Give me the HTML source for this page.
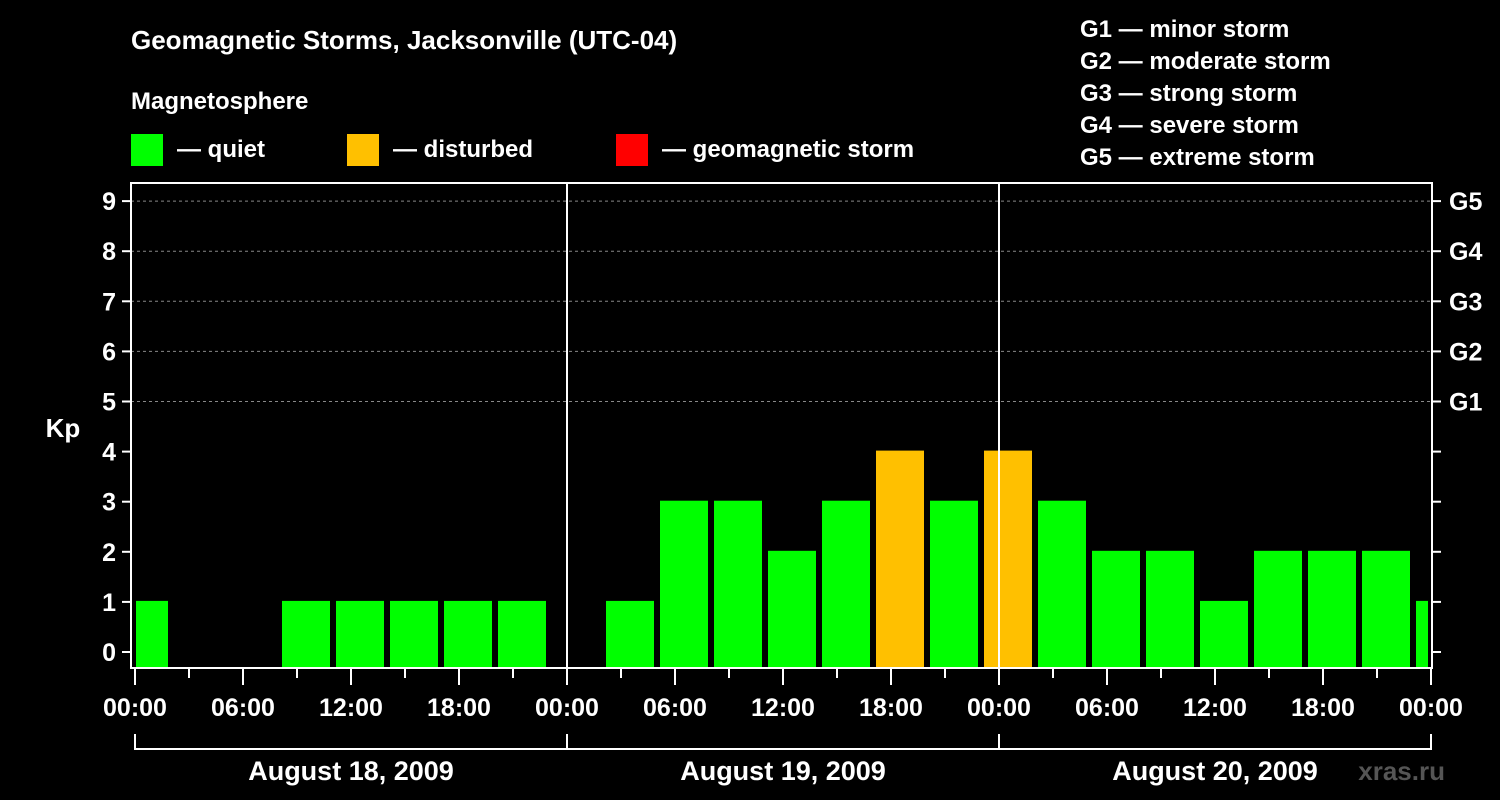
<!DOCTYPE html>
<html><head><meta charset="utf-8"><style>
html,body{margin:0;padding:0;background:#000;}
svg{display:block;font-family:"Liberation Sans",Arial,sans-serif;font-weight:bold;}
</style></head><body>
<svg id="chart" width="1500" height="800">
<rect width="1500" height="800" fill="#000"/>
<text x="131" y="49" fill="#fff" font-size="26">Geomagnetic Storms, Jacksonville (UTC-04)</text>
<text x="131" y="109" fill="#fff" font-size="24">Magnetosphere</text>
<g><rect x="131" y="134" width="32" height="32" fill="#00ff00"/><text x="177" y="157" fill="#fff" font-size="24">— quiet</text></g>
<g><rect x="347" y="134" width="32" height="32" fill="#ffc000"/><text x="393" y="157" fill="#fff" font-size="24">— disturbed</text></g>
<g><rect x="616" y="134" width="32" height="32" fill="#ff0000"/><text x="662" y="157" fill="#fff" font-size="24">— geomagnetic storm</text></g>
<g fill="#fff" font-size="24">
<text x="1080" y="37">G1 — minor storm</text>
<text x="1080" y="69">G2 — moderate storm</text>
<text x="1080" y="101">G3 — strong storm</text>
<text x="1080" y="133">G4 — severe storm</text>
<text x="1080" y="165">G5 — extreme storm</text>
</g>
<text x="63" y="437" fill="#fff" font-size="26" text-anchor="middle">Kp</text>
<text x="1445" y="780" fill="#555" font-size="26" text-anchor="end">xras.ru</text>
<g id="grid"></g><g id="bars"></g><g id="axes"></g>
</svg>
<script>
const kpValues=[1,0,0,1,1,1,1,1,0, 1,3,3,2,3,4,3,4, 3,2,2,1,2,2,2,1];
const yTicks=[0,1,2,3,4,5,6,7,8,9];
const gLabels=["G1","G2","G3","G4","G5"];
const xTickLabels=["00:00","06:00","12:00","18:00","00:00","06:00","12:00","18:00","00:00","06:00","12:00","18:00","00:00"];
const dayLabels=["August 18, 2009","August 19, 2009","August 20, 2009"];
const firstSlotHour=-1, slotHours=3;
const X0=131,X1=1432,T0=135,PXH=18,YB=668,YT=183;
const xs=h=>Math.max(X0,Math.min(X1,T0+h*PXH));
const ys=v=>652-v*50.1;
const NS="http://www.w3.org/2000/svg";
function mk(p,t,a){const e=document.createElementNS(NS,t);for(const k in a)e.setAttribute(k,a[k]);document.getElementById(p).appendChild(e);return e;}
function col(v){return v>=5?"#ff0000":v>=4?"#ffc000":"#00ff00";}
// grid
[5,6,7,8,9].forEach(v=>{const l=mk("grid","line",{x1:X0,x2:X1,y1:ys(v),y2:ys(v),stroke:"#888","stroke-dasharray":"3,3","stroke-width":1});

});
// bars
kpValues.forEach((v,i)=>{const h=firstSlotHour+i*slotHours;
let a=xs(h)+3,b=xs(h+slotHours)-3;a=Math.max(a,T0+1);b=Math.min(b,X1-4);
const top=v===0?YB:ys(v)-1;
const r=mk("bars","rect",{x:a,y:top,width:Math.max(0,b-a),height:YB-top,fill:col(v)});

});
// frame
const f=mk("axes","rect",{x:X0,y:YT,width:X1-X0,height:YB-YT,fill:"none",stroke:"#fff","stroke-width":2});


[1,2].forEach(d=>{const l=mk("axes","line",{x1:T0+d*432,x2:T0+d*432,y1:YT,y2:YB,stroke:"#fff","stroke-width":2});

});
yTicks.forEach(v=>{const y=ys(v);
mk("axes","line",{x1:122,x2:X0,y1:y,y2:y,stroke:"#fff","stroke-width":2});
mk("axes","line",{x1:X1,x2:1441,y1:y,y2:y,stroke:"#fff","stroke-width":2});
const t=mk("axes","text",{x:116,y:y+9,fill:"#fff","font-size":25,"text-anchor":"end"});t.textContent=v;

});
gLabels.forEach((g,i)=>{const t=mk("axes","text",{x:1449,y:ys(5+i)+9,fill:"#fff","font-size":25});t.textContent=g;

});
for(let h=0;h<=72;h+=3){const x=T0+h*PXH;mk("axes","line",{x1:x,x2:x,y1:YB,y2:h%6==0?685:678,stroke:"#fff","stroke-width":2});}
xTickLabels.forEach((s,i)=>{const t=mk("axes","text",{x:T0+i*6*PXH,y:716,fill:"#fff","font-size":25,"text-anchor":"middle"});t.textContent=s;

});
mk("axes","line",{x1:T0,x2:T0+3*432,y1:749,y2:749,stroke:"#fff","stroke-width":2});
for(let d=0;d<=3;d++)mk("axes","line",{x1:T0+d*432,x2:T0+d*432,y1:734,y2:750,stroke:"#fff","stroke-width":2});
dayLabels.forEach((s,i)=>{const t=mk("axes","text",{x:T0+i*432+216,y:780,fill:"#fff","font-size":27,"text-anchor":"middle"});t.textContent=s;

});
</script>
</body></html>
